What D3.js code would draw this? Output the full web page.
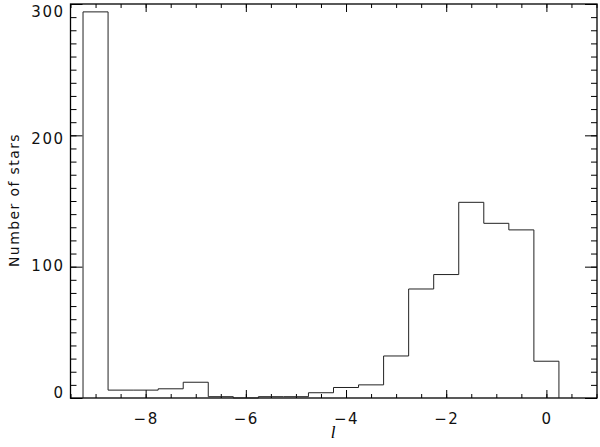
<!DOCTYPE html>
<html>
<head>
<meta charset="utf-8">
<title>Number of stars vs l</title>
<script src="https://cdn.jsdelivr.net/npm/d3@7"></script>
<style>
  body { margin: 0; background: #fff; }
  svg { display: block; }
  .tick text { font-family: "DejaVu Sans", sans-serif; font-size: 15px; fill: #111; letter-spacing: 1.5px; }
</style>
</head>
<body>
<script>
// histogram bins (centre of each 0.5-wide bin) and star counts
var binCenters = [-9, -8.5, -8, -7.5, -7, -6.5, -6, -5.5, -5, -4.5, -4, -3.5,
                  -3, -2.5, -2, -1.5, -1, -0.5, 0];
var counts     = [294, 6, 6, 7, 12, 1, 0, 1, 1, 4, 8, 10,
                  32, 83, 94, 149, 133, 128, 28];
var binWidth = 0.5;

var xMajor = [-8, -6, -4, -2, 0];
var xMinor = d3.range(-9.5, 1.01, 0.5);
var yMajor = [0, 100, 200, 300];
var yMinor = d3.range(0, 301, 10);

var width = 600, height = 447;
var mLeft = 70.5, mRight = 597, mTop = 4, mBottom = 398;

var x = d3.scaleLinear().domain([-9.5, 1]).range([mLeft, mRight - 0.5]);
var y = d3.scaleLinear().domain([0, 300]).range([mBottom, mTop]);
// tick labels sit a bit inside the extreme ticks
var yLab = d3.scaleLinear().domain([0, 300]).range([392, 11]);

var svg = d3.select("body").append("svg")
  .attr("width", width)
  .attr("height", height);

function minor(axis) { return axis.tickFormat("").tickSizeOuter(0); }

// bottom axis
svg.append("g").attr("transform", "translate(0," + mBottom + ")")
  .call(minor(d3.axisTop(x).tickValues(xMinor).tickSize(4)));
svg.append("g").attr("transform", "translate(0," + mBottom + ")")
  .call(d3.axisTop(x).tickValues(xMajor).tickSize(8).tickSizeOuter(0)
    .tickFormat(function(d) { return d3.format("d")(d).replace("-", "\u2212"); }))
  .call(function(g) {
    g.selectAll("text").attr("y", 0).attr("dy", "26px");
  });

// top axis
svg.append("g").attr("transform", "translate(0," + mTop + ")")
  .call(minor(d3.axisBottom(x).tickValues(xMinor).tickSize(4)));
svg.append("g").attr("transform", "translate(0," + mTop + ")")
  .call(minor(d3.axisBottom(x).tickValues(xMajor).tickSize(8)));

// left axis
svg.append("g").attr("transform", "translate(" + mLeft + ",0)")
  .call(minor(d3.axisRight(y).tickValues(yMinor).tickSize(6)));
svg.append("g").attr("transform", "translate(" + mLeft + ",0)")
  .call(minor(d3.axisRight(y).tickValues(yMajor).tickSize(12)));
svg.append("g").attr("transform", "translate(" + (mLeft - 6) + ",0)")
  .call(d3.axisLeft(yLab).tickValues(yMajor).tickSize(0).tickPadding(0))
  .call(function(g) { g.selectAll("text").attr("dy", "0.36em"); });

// right axis
svg.append("g").attr("transform", "translate(" + mRight + ",0)")
  .call(minor(d3.axisLeft(y).tickValues(yMinor).tickSize(6)));
svg.append("g").attr("transform", "translate(" + mRight + ",0)")
  .call(minor(d3.axisLeft(y).tickValues(yMajor).tickSize(12)));

svg.selectAll(".domain").remove();
svg.selectAll(".tick line").attr("stroke", "#000");

// frame
svg.append("rect")
  .attr("x", mLeft).attr("y", mTop)
  .attr("width", mRight - mLeft).attr("height", mBottom - mTop)
  .attr("fill", "none").attr("stroke", "#000").attr("stroke-width", 1.3);

// histogram outline (step)
var pts = [[binCenters[0] - binWidth / 2, 0]];
binCenters.forEach(function(c, i) { pts.push([c - binWidth / 2, counts[i]]); });
var last = binCenters.length - 1;
pts.push([binCenters[last] + binWidth / 2, counts[last]]);
pts.push([binCenters[last] + binWidth / 2, 0]);

var line = d3.line()
  .x(function(d) { return x(d[0]); })
  .y(function(d) { return y(d[1]); })
  .curve(d3.curveStepAfter);

svg.append("path")
  .datum(pts)
  .attr("d", line)
  .attr("fill", "none")
  .attr("stroke", "#222")
  .attr("stroke-width", 1);

// axis titles
svg.append("text")
  .attr("transform", "translate(19,200) rotate(-90)")
  .attr("text-anchor", "middle")
  .style("font-family", "DejaVu Sans, sans-serif")
  .style("font-size", "14px")
  .style("fill", "#111")
  .style("letter-spacing", "1.4px")
  .text("Number of stars");

svg.append("text")
  .attr("x", 333).attr("y", 438)
  .attr("text-anchor", "middle")
  .style("font-family", "Liberation Serif, serif")
  .style("font-style", "italic")
  .style("font-size", "17px")
  .text("l");
</script>
</body>
</html>
